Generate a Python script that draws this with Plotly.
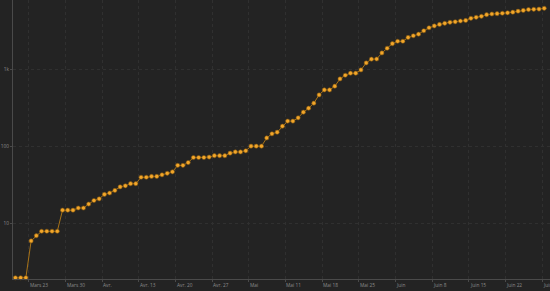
import pandas as pd
import plotly.graph_objects as go

# ---- data ----
values = [2, 2, 2, 6, 7, 8, 8, 8, 8, 15,
          15, 15, 16, 16, 18, 20, 21, 24, 25, 27,
          30, 31, 33, 33, 40, 40, 41, 41, 43, 45,
          47, 57, 57, 62, 72, 72, 72, 73, 76, 76,
          76, 82, 85, 85, 88, 101, 101, 101, 129, 146,
          153, 183, 213, 213, 235, 278, 313, 364, 465, 540,
          540, 603, 749, 836, 888, 888, 980, 1206, 1350, 1356,
          1624, 1869, 2143, 2301, 2301, 2577, 2711, 2843, 3147, 3440,
          3630, 3796, 3933, 4052, 4111, 4210, 4276, 4564, 4700, 4842,
          5080, 5188, 5236, 5300, 5378, 5474, 5637, 5773, 5914, 5968,
          6000, 6147]
dates = pd.date_range("2020-03-20 10:00", periods=len(values), freq="D")

tick_dates = ["2020-03-23", "2020-03-30", "2020-04-06", "2020-04-13", "2020-04-20",
              "2020-04-27", "2020-05-04", "2020-05-11", "2020-05-18", "2020-05-25",
              "2020-06-01", "2020-06-08", "2020-06-15", "2020-06-22", "2020-06-29"]
tick_text = ["Mars 23", "Mars 30", "Avr.", "Avr. 13", "Avr. 20", "Avr. 27", "Mai",
             "Mai 11", "Mai 18", "Mai 25", "Juin", "Juin 8", "Juin 15", "Juin 22", "Juin 29"]
y_tickvals = [10, 100, 1000]
y_ticktext = ["10", "100", "1k"]

BG = "#232323"
GRID = "#303030"
AXIS = "#4a4a4a"
TXT = "#8c8c8c"

fig = go.Figure()
fig.add_trace(go.Scatter(
    x=dates, y=values, mode="lines+markers",
    line=dict(color="#a87318", width=1),
    marker=dict(symbol="circle", size=4.2, color="#f2a62a",
                line=dict(color="#7a5210", width=0.6)),
    cliponaxis=False, showlegend=False,
))

for d, t in zip(tick_dates, tick_text):
    fig.add_annotation(x=d, xref="x", y=0, yref="paper", text=t,
                       xanchor="left", yanchor="top", showarrow=False,
                       xshift=0, yshift=-1.5, borderpad=0,
                       font=dict(size=4.8, color=TXT, family="Open Sans"))

fig.update_layout(
    width=550, height=291,
    margin=dict(l=13, r=0, t=0, b=12),
    paper_bgcolor=BG, plot_bgcolor=BG,
    font=dict(family="Open Sans", size=5, color=TXT),
    xaxis=dict(
        type="date",
        range=["2020-03-19 23:00", "2020-06-30 12:30"],
        tickvals=tick_dates, showticklabels=False,
        showgrid=True, gridcolor=GRID, griddash="dot", gridwidth=1,
        showline=True, linecolor=AXIS, linewidth=1,
        ticks="outside", ticklen=2, tickcolor=AXIS,
        zeroline=False,
    ),
    yaxis=dict(
        type="log", range=[0.285, 3.896],
        tickvals=y_tickvals, ticktext=y_ticktext,
        showgrid=True, gridcolor=GRID, griddash="dot", gridwidth=1,
        showline=True, linecolor=AXIS, linewidth=1,
        ticks="outside", ticklen=2, tickcolor=AXIS,
        tickfont=dict(size=4.8, color=TXT),
        zeroline=False,
    ),
)

fig.write_html("out.html")
